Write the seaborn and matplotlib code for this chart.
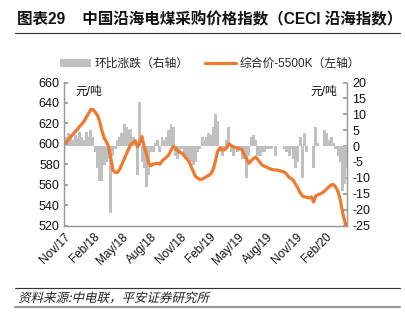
import numpy as np
import pandas as pd
import matplotlib
matplotlib.use("Agg")
import matplotlib.pyplot as plt
import matplotlib.dates as mdates
from matplotlib.patches import Patch, PathPatch
from matplotlib.lines import Line2D
from matplotlib.textpath import TextPath
from matplotlib.font_manager import FontProperties
from matplotlib.transforms import Affine2D
import seaborn as sns

# ---------------- data ----------------
start_date = "2017-11-01"
price = [600, 601.5, 604, 607, 609.3, 611.8, 614, 617, 619.3, 622,
         626, 629.5, 633.5, 633.5, 631, 628, 622, 613, 605.7, 602,
         597.5, 585.5, 574, 572, 572, 575, 580, 585, 590, 595,
         599.5, 601, 603, 597, 601, 607, 597, 590, 581, 578.5,
         580, 580.5, 581, 580, 583, 585, 587, 589, 593.5, 597.5,
         596, 593, 591.5, 591, 588, 585.5, 583, 578, 573, 568,
         566.5, 565, 565.5, 566.5, 568, 569, 571, 575, 583.6, 593,
         596, 594, 594, 596, 600, 598.5, 597, 596.5, 595.5, 595,
         594, 588.5, 585, 581, 583.5, 585.5, 587, 584.5, 581.5, 579,
         578, 577, 576, 575, 574.5, 574.5, 574, 573.5, 573, 572,
         570, 567, 566, 564, 560, 556.5, 552, 549, 548, 547.5,
         547, 548, 543, 549, 550, 551, 552, 554, 556, 558,
         560, 560, 557.5, 553, 545, 533, 524, 517]
change = [2, 3, 4, 3, 2, 3.5, 2.5, 4.5, 3, 2,
          4.5, 3, 5, 3, -2, -7, -11, -11, -6, -5,
          -4, -21, -3, -1, 2, 3, 4, 7, 6, 5,
          5.5, 3, 2, -9, 14, -5, -7, -13, -9, -2,
          -2, 1, 2, -2, 3, 2, 3, 5, 7, 6,
          -3, -4, -2, -1, -3, -3, -4, -5, -6, -5,
          -2, -1, 3, 2, 3, 4, 3.5, 6, 10, 8,
          -2, -3, -1, 2, 6, -2, -3, -1, -2, -1,
          -4, -4, -10, -3, 3, 3.5, 2, -3, -3, -2,
          -2, -1, -1, -1, 0, -3, 0, 0, 0, -1,
          -2, -3, -1, -4, -7, -5, 3, -10, 4, -2,
          0, 0, -7, 6, 1, 0, 0, 5, 4, 2,
          3, 1, -1, -3, -5, -14, -12, -7]
tick_dates = ["2017-11-01", "2018-02-01", "2018-05-01", "2018-08-01", "2018-11-01",
              "2019-02-01", "2019-05-01", "2019-08-01", "2019-11-01", "2020-02-01"]
tick_labels = ["Nov/17", "Feb/18", "May/18", "Aug/18", "Nov/18",
               "Feb/19", "May/19", "Aug/19", "Nov/19", "Feb/20"]
left_ticks = [520, 540, 560, 580, 600, 620, 640, 660]
right_ticks = [-25, -20, -15, -10, -5, 0, 5, 10, 15, 20]

title_text = "图表29    中国沿海电煤采购价格指数（CECI 沿海指数）"
bar_label = "环比涨跌（右轴）"
line_label = "综合价-5500K（左轴）"
unit = "元/吨"
source = "资料来源:中电联，平安证券研究所"

# ---------------- style ----------------
sns.set_theme(style="white")
plt.rcParams["font.family"] = ["Liberation Sans", "Noto Sans CJK SC"]
plt.rcParams["axes.unicode_minus"] = False

ORANGE = "#EE7A2F"
GREY = "#C0C0C0"
SPINE = "#9A9A9A"

dates = pd.date_range(start_date, periods=len(price), freq="7D")
xnum = mdates.date2num(dates)
df = pd.DataFrame({"x": xnum, "price": price, "change": change})

W, H = 406, 325
DPI = 100
fig = plt.figure(figsize=(W / DPI, H / DPI), dpi=DPI)
L, R, T, B = 64, 347, 82.5, 225.5
ax = fig.add_axes([L / W, 1 - B / H, (R - L) / W, (B - T) / H])
ax2 = ax.twinx()

sns.barplot(data=df, x="x", y="change", native_scale=True, ax=ax2,
            color=GREY, saturation=1, width=1.3, errorbar=None, linewidth=0)
sns.lineplot(data=df, x="x", y="price", ax=ax, color=ORANGE, linewidth=2.3)

ax.set_zorder(ax2.get_zorder() + 1)
ax.patch.set_visible(False)

ax.set_xlim(xnum[0], xnum[-1])
ax.set_ylim(520, 660)
ax2.set_ylim(-25, 20)
ax.set_yticks(left_ticks)
ax2.set_yticks(right_ticks)
ax.set_xticks(mdates.date2num(pd.to_datetime(tick_dates)))
ax.set_xticklabels(tick_labels, rotation=45, ha="right", rotation_mode="anchor")
for a in (ax, ax2):
    a.set_xlabel("")
    a.set_ylabel("")
    a.grid(False)
    for s in a.spines.values():
        s.set_color(SPINE)
        s.set_linewidth(0.9)
    a.spines["top"].set_visible(False)
ax.tick_params(axis="both", direction="in", length=3, color=SPINE, labelsize=9,
               labelcolor="#111111", pad=3)
ax.tick_params(axis="x", labelsize=8.5, pad=4)
ax2.tick_params(axis="y", direction="in", length=3, color=SPINE, labelsize=9,
                labelcolor="#111111", pad=4)
ax2.tick_params(axis="x", bottom=False, labelbottom=False)

# unit labels
fig.text(75 / W, 1 - 92 / H, unit, fontsize=8.5, ha="left", va="center", color="#111111")
fig.text(337 / W, 1 - 92 / H, unit, fontsize=8.5, ha="right", va="center", color="#111111")

# legend
handles = [Patch(facecolor=GREY, edgecolor="none"),
           Line2D([0], [0], color=ORANGE, lw=2.3)]
fig.legend(handles, [bar_label, line_label], loc="center",
           bbox_to_anchor=(210 / W, 1 - 64 / H), ncol=2, frameon=False,
           fontsize=8.5, handlelength=2.6, handletextpad=0.3, columnspacing=1.4)

# title and rules
fig.text(17 / W, 1 - 20 / H, title_text, fontsize=11.2, fontweight="bold",
         ha="left", va="center", color="#111111")
fig.add_artist(Line2D([15 / W, 400 / W], [1 - 33 / H] * 2, color="#333333", lw=0.8))
fig.add_artist(Line2D([15 / W, 400 / W], [1 - 288 / H] * 2, color="#333333", lw=0.8))
fig.add_artist(Line2D([15 / W, 400 / W], [1 - 307 / H] * 2, color="#999999", lw=1.6))

# italic-looking source note (sheared text path)
fsize = 9.0
tp = TextPath((0, 0), source, size=fsize, prop=FontProperties(family="Noto Sans CJK SC"))
trans = Affine2D().skew_deg(14, 0).scale(DPI / 72).translate(18, H - 302)
fig.add_artist(PathPatch(tp, transform=trans, facecolor="#222222", edgecolor="none"))

fig.savefig("out.png", dpi=DPI)
